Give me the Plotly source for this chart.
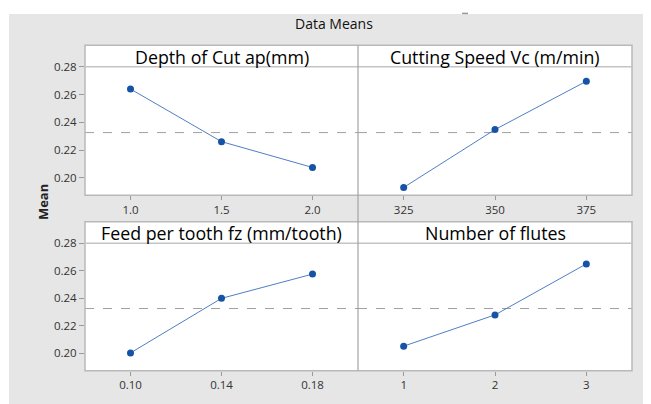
import numpy as np
import plotly.graph_objects as go

# ---- data ----
depth_labels = ["1.0", "1.5", "2.0"]
depth_means = [0.264, 0.2261, 0.2075]
speed_labels = ["325", "350", "375"]
speed_means = [0.1931, 0.2348, 0.2696]
feed_labels = ["0.10", "0.14", "0.18"]
feed_means = [0.2004, 0.2400, 0.2576]
flute_labels = ["1", "2", "3"]
flute_means = [0.2053, 0.2280, 0.2650]
panel_titles = ["Depth of Cut ap(mm)", "Cutting Speed Vc (m/min)",
                "Feed per tooth fz (mm/tooth)", "Number of flutes"]
y_ticks = [0.20, 0.22, 0.24, 0.26, 0.28]

grand_mean = float(np.mean(depth_means + speed_means + feed_means + flute_means))

W, H = 651, 404
def px(x):
    return x / W
def py(y):
    return 1 - y / H

FONT = "Open Sans"
LINE_C = "#4f7fc4"
MARK_C = "#1553a6"
BORDER = "#b9b9b9"
TICK_C = "#9a9a9a"

# panel geometry (pixels)
cols = [(85, 358), (358, 632)]
rows = [dict(top=38, strip=60, bot=191), dict(top=218, strip=240, bot=370)]

fig = go.Figure()

series = [(depth_labels, depth_means), (speed_labels, speed_means),
          (feed_labels, feed_means), (flute_labels, flute_means)]

shapes = []
annotations = []
# outer gray background
shapes.append(dict(type="rect", xref="paper", yref="paper", x0=px(9), x1=px(643),
                   y0=py(404), y1=py(6), fillcolor="#e6e6e6", line=dict(width=0), layer="below"))
# tiny mark at the top
shapes.append(dict(type="line", xref="paper", yref="paper", x0=px(462), x1=px(468),
                   y0=py(5.5), y1=py(5.5), line=dict(color="#9a9a9a", width=1.5), layer="below"))

layout_axes = {}
for i, (labels, vals) in enumerate(series):
    r, c = divmod(i, 2)
    g = rows[r]
    x0, x1 = cols[c]
    ax = "" if i == 0 else str(i + 1)
    xa, ya = "x" + ax, "y" + ax
    fig.add_trace(go.Scatter(
        x=list(range(len(labels))), y=vals, mode="lines+markers",
        line=dict(color=LINE_C, width=1), marker=dict(color=MARK_C, size=7),
        xaxis=xa, yaxis=ya, showlegend=False, hoverinfo="x+y"))
    layout_axes["xaxis" + ax] = dict(
        domain=[px(x0), px(x1)], anchor=ya, range=[-0.5, 2.5],
        tickvals=list(range(len(labels))), ticktext=labels,
        ticks="outside", ticklen=4, tickcolor=TICK_C, tickwidth=1,
        showgrid=False, zeroline=False, showline=False,
        tickfont=dict(family=FONT, size=11.5, color="#333333"), fixedrange=True)
    layout_axes["yaxis" + ax] = dict(
        domain=[py(g["bot"]), py(g["strip"])], anchor=xa, range=[0.1875, 0.28],
        tickvals=y_ticks, ticktext=["%.2f" % v for v in y_ticks],
        ticks="outside" if c == 0 else "", ticklen=5, tickcolor=TICK_C, tickwidth=1,
        showticklabels=(c == 0), showgrid=False, zeroline=False, showline=False,
        tickfont=dict(family=FONT, size=11.5, color="#333333"), fixedrange=True)
    # white panel (strip + plot)
    shapes.append(dict(type="rect", xref="paper", yref="paper", x0=px(x0), x1=px(x1),
                       y0=py(g["bot"]), y1=py(g["top"]), fillcolor="white",
                       line=dict(width=0), layer="below"))
    # mean dashed line
    shapes.append(dict(type="line", xref=xa + " domain", yref=ya, x0=0, x1=1,
                       y0=grand_mean, y1=grand_mean,
                       line=dict(color="#a0a0a0", width=1, dash="dash"), layer="below"))
    # strip title
    annotations.append(dict(text=panel_titles[i], xref="paper", yref="paper",
                            x=px((x0 + x1) / 2), y=py((g["top"] + g["strip"]) / 2 + 1),
                            showarrow=False, xanchor="center", yanchor="middle",
                            font=dict(family=FONT, size=17.8, color="#000000")))

# borders
for g in rows:
    shapes.append(dict(type="rect", xref="paper", yref="paper", x0=px(85), x1=px(632),
                       y0=py(g["bot"]), y1=py(g["top"]), line=dict(color=BORDER, width=1.5)))
    shapes.append(dict(type="line", xref="paper", yref="paper", x0=px(85), x1=px(632),
                       y0=py(g["strip"]), y1=py(g["strip"]), line=dict(color="#c4c4c4", width=1.5)))
# continuous vertical divider
shapes.append(dict(type="line", xref="paper", yref="paper", x0=px(358), x1=px(358),
                   y0=py(370), y1=py(38), line=dict(color="#a3a3a3", width=1.2)))

annotations.append(dict(text="Data Means", xref="paper", yref="paper", x=px(334), y=py(16),
                        showarrow=False, xanchor="center", yanchor="middle",
                        font=dict(family=FONT, size=14, color="#111111")))
annotations.append(dict(text="<b>Mean</b>", xref="paper", yref="paper", x=px(43), y=py(198),
                        showarrow=False, textangle=-90, xanchor="center", yanchor="middle",
                        font=dict(family=FONT, size=13, color="#222222")))

fig.update_layout(
    width=W, height=H, autosize=False,
    margin=dict(l=0, r=0, t=0, b=0),
    paper_bgcolor="white", plot_bgcolor="rgba(0,0,0,0)",
    shapes=shapes, annotations=annotations, **layout_axes)

fig.write_html("out.html", config={"displayModeBar": False},
               post_script="document.body.style.margin='0';document.body.style.overflow='hidden';")
